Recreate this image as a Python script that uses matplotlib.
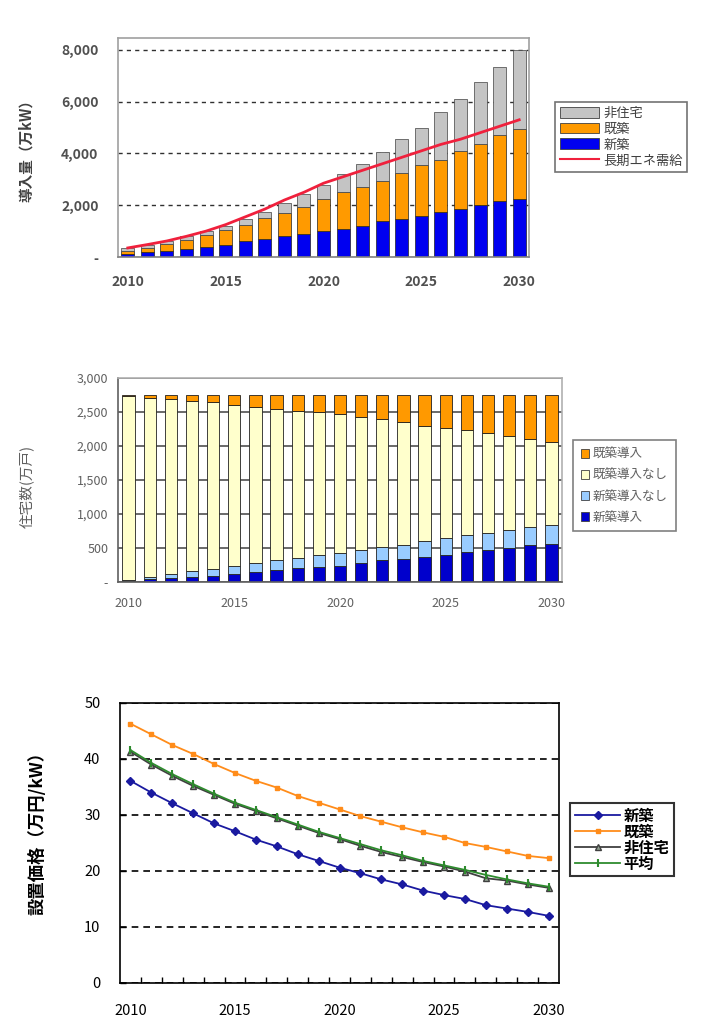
import numpy as np
import matplotlib
matplotlib.use("Agg")
import matplotlib.pyplot as plt
from matplotlib.ticker import FuncFormatter, FixedLocator
from matplotlib.patches import Patch
from matplotlib.lines import Line2D

plt.rcParams['font.family'] = ['Noto Sans CJK JP', 'DejaVu Sans']

years = list(range(2010, 2031))

# 導入量（万kW）
shinchiku_kw = [100, 180, 250, 320, 400, 480, 600, 700, 800, 900, 1000,
                1100, 1200, 1400, 1450, 1600, 1750, 1850, 2000, 2150, 2250]
kichiku_kw = [150, 170, 250, 330, 450, 570, 650, 800, 900, 1050, 1250,
              1400, 1500, 1550, 1800, 1950, 2000, 2250, 2350, 2550, 2700]
hijutaku_kw = [100, 100, 100, 150, 150, 150, 200, 250, 400, 500, 550,
               700, 900, 1100, 1300, 1450, 1850, 2000, 2400, 2650, 3050]
choki_jukyu = [350, 480, 620, 800, 1000, 1250, 1550, 1850, 2200, 2500, 2850,
               3100, 3350, 3600, 3850, 4100, 4350, 4550, 4800, 5050, 5300]

# 住宅数（万戸）
shin_donyu = [20, 40, 60, 80, 90, 120, 140, 170, 200, 220, 240,
              280, 320, 340, 370, 400, 440, 470, 500, 540, 560]
shin_nashi = [10, 30, 60, 80, 100, 110, 140, 150, 160, 170, 190,
              190, 190, 210, 230, 240, 250, 250, 270, 270, 280]
ki_nashi = [2700, 2640, 2570, 2500, 2450, 2380, 2300, 2230, 2160, 2110, 2040,
            1960, 1880, 1800, 1700, 1620, 1540, 1470, 1370, 1290, 1220]
ki_donyu = [20, 40, 60, 90, 110, 140, 170, 200, 230, 250, 280,
            320, 360, 400, 450, 490, 520, 560, 610, 650, 690]

# 設置価格（万円/kW）
price_shin = [36.1, 34.0, 32.1, 30.3, 28.5, 27.1, 25.6, 24.4, 23.0, 21.8, 20.6,
              19.6, 18.5, 17.6, 16.5, 15.7, 15.0, 13.9, 13.3, 12.7, 12.0]
price_ki = [46.3, 44.4, 42.5, 40.9, 39.1, 37.5, 36.1, 34.9, 33.4, 32.2, 31.0,
            29.8, 28.8, 27.8, 26.9, 26.1, 25.0, 24.3, 23.5, 22.7, 22.3]
price_hiju = [41.3, 39.0, 37.0, 35.2, 33.6, 32.0, 30.7, 29.4, 28.1, 26.8, 25.7,
              24.5, 23.4, 22.5, 21.6, 20.8, 19.9, 18.7, 18.3, 17.6, 17.0]
price_avg = [41.6, 39.3, 37.3, 35.5, 33.8, 32.2, 30.9, 29.6, 28.3, 27.0, 25.9,
             24.8, 23.7, 22.8, 21.8, 21.0, 20.2, 19.3, 18.5, 17.8, 17.2]

label_years = [2010, 2015, 2020, 2025, 2030]

W, H = 701, 1027
fig = plt.figure(figsize=(W / 100, H / 100), dpi=100)


def box(l, t, r, b):
    return [l / W, 1 - b / H, (r - l) / W, (b - t) / H]


def thousands(v, pos):
    return "-" if v == 0 else f"{int(v):,}"


# ---- 1) 導入量 ----
ax1 = fig.add_axes(box(118, 38, 529, 257))
x = np.array(years)
b1 = np.array(shinchiku_kw)
b2 = b1 + np.array(kichiku_kw)
ax1.bar(x, shinchiku_kw, 0.66, color="#0000F0", edgecolor="#202020", linewidth=0.5, zorder=2)
ax1.bar(x, kichiku_kw, 0.66, bottom=b1, color="#FF9A00", edgecolor="#202020", linewidth=0.5, zorder=2)
ax1.bar(x, hijutaku_kw, 0.66, bottom=b2, color="#C4C4C4", edgecolor="#404040", linewidth=0.5, zorder=2)
ax1.plot(x, choki_jukyu, color="#F0203C", lw=2, zorder=3)
ax1.set_xlim(2009.5, 2030.5)
ax1.set_ylim(0, 8460)
ax1.set_yticks([0, 2000, 4000, 6000, 8000])
ax1.yaxis.set_major_formatter(FuncFormatter(thousands))
ax1.set_xticks(label_years)
ax1.grid(axis="y", color="#303030", linestyle=(0, (3, 3)), linewidth=1)
ax1.set_axisbelow(True)
for s in ax1.spines.values():
    s.set_color("#A0A0A0")
    s.set_linewidth(1.2)
ax1.spines["bottom"].set_color("#808080")
ax1.tick_params(length=0, labelsize=10, labelcolor="#505050")
ax1.tick_params(axis="y", pad=14)
ax1.tick_params(axis="x", pad=13)
for t in ax1.get_xticklabels() + ax1.get_yticklabels():
    t.set_fontweight("bold")
ax1.set_ylabel("導入量（万kW）", fontsize=10.5, fontweight="bold", color="#404040")
ax1.yaxis.set_label_coords(-0.205, 0.5)
h1 = [Patch(facecolor="#C4C4C4", edgecolor="#404040", lw=0.6),
      Patch(facecolor="#FF9A00", edgecolor="#404040", lw=0.6),
      Patch(facecolor="#0000F0", edgecolor="#404040", lw=0.6),
      Line2D([], [], color="#F0203C", lw=1.5)]
leg1 = ax1.legend(h1, ["非住宅", "既築", "新築", "長期エネ需給"], loc="upper left",
                  bbox_to_anchor=(555 / W, 1 - 102 / H), bbox_transform=fig.transFigure,
                  fontsize=9.5, frameon=True, fancybox=False, handlelength=3.0,
                  handleheight=0.9, labelspacing=0.22, borderpad=0.35,
                  handletextpad=0.3, borderaxespad=0)
leg1.get_frame().set_edgecolor("#505050")
leg1.get_frame().set_linewidth(1.2)
for t in leg1.get_texts():
    t.set_color("#404040")

# ---- 2) 住宅数 ----
ax2 = fig.add_axes(box(118, 378, 562, 582))
c1 = np.array(shin_donyu)
c2 = c1 + np.array(shin_nashi)
c3 = c2 + np.array(ki_nashi)
ax2.bar(x, shin_donyu, 0.58, color="#0000CC", edgecolor="#202020", linewidth=0.6, zorder=2)
ax2.bar(x, shin_nashi, 0.58, bottom=c1, color="#99CCFF", edgecolor="#202020", linewidth=0.6, zorder=2)
ax2.bar(x, ki_nashi, 0.58, bottom=c2, color="#FFFFCC", edgecolor="#202020", linewidth=0.6, zorder=2)
ax2.bar(x, ki_donyu, 0.58, bottom=c3, color="#FF9900", edgecolor="#202020", linewidth=0.6, zorder=2)
ax2.set_xlim(2009.5, 2030.5)
ax2.set_ylim(0, 3000)
ax2.set_yticks(range(0, 3001, 500))
ax2.yaxis.set_major_formatter(FuncFormatter(thousands))
ax2.set_xticks(label_years)
ax2.grid(axis="y", color="#505050", linewidth=1.2)
ax2.set_axisbelow(True)
for s in ax2.spines.values():
    s.set_color("#B0B0B0")
    s.set_linewidth(1.2)
ax2.spines["left"].set_color("#606060")
ax2.spines["bottom"].set_color("#606060")
ax2.tick_params(length=0, labelsize=9, labelcolor="#606060")
ax2.tick_params(axis="y", pad=7)
ax2.tick_params(axis="x", pad=11)
ax2.set_ylabel("住宅数(万戸)", fontsize=10.5, color="#606060")
ax2.yaxis.set_label_coords(-0.19, 0.47)
h2 = [Patch(facecolor="#FF9900", edgecolor="#404040", lw=0.6),
      Patch(facecolor="#FFFFCC", edgecolor="#404040", lw=0.6),
      Patch(facecolor="#99CCFF", edgecolor="#404040", lw=0.6),
      Patch(facecolor="#0000CC", edgecolor="#404040", lw=0.6)]
leg2 = ax2.legend(h2, ["既築導入", "既築導入なし", "新築導入なし", "新築導入"], loc="upper left",
                  bbox_to_anchor=(573 / W, 1 - 440 / H), bbox_transform=fig.transFigure,
                  fontsize=9, frameon=True, fancybox=False, handlelength=0.7,
                  handleheight=0.7, labelspacing=0.65, borderpad=0.6,
                  handletextpad=0.3, borderaxespad=0)
leg2.get_frame().set_edgecolor("#606060")
leg2.get_frame().set_linewidth(1.2)
for t in leg2.get_texts():
    t.set_color("#606060")

# ---- 3) 設置価格 ----
ax3 = fig.add_axes(box(120, 703, 559, 983))
ax3.plot(x, price_shin, color="#1A1AA0", marker="D", ms=4, lw=1.3, zorder=3)
ax3.plot(x, price_ki, color="#FF8C1A", marker="s", ms=3.5, lw=1.3, zorder=3)
ax3.plot(x, price_hiju, color="#404040", marker="^", ms=5, mfc="#90A090", mec="#404040",
         lw=1.3, zorder=3)
ax3.plot(x, price_avg, color="#2E8B2E", marker="|", ms=6, mew=1.5, lw=1.3, zorder=4)
ax3.set_xlim(2009.5, 2030.5)
ax3.set_ylim(0, 50)
ax3.set_yticks(range(0, 51, 10))
ax3.set_xticks(label_years)
ax3.xaxis.set_minor_locator(FixedLocator(np.arange(2010.5, 2030, 1)))
ax3.grid(axis="y", color="black", linestyle=(0, (4, 3)), linewidth=1.2)
ax3.set_axisbelow(True)
for s in ax3.spines.values():
    s.set_color("black")
    s.set_linewidth(1.2)
ax3.tick_params(axis="x", which="major", length=0, labelsize=10.5, pad=15)
ax3.tick_params(axis="x", which="minor", direction="in", length=4, width=1)
ax3.tick_params(axis="y", direction="in", length=4, width=1, labelsize=10.5, pad=14)
ax3.set_ylabel("設置価格（万円/kW）", fontsize=12.5, fontweight="bold")
ax3.yaxis.set_label_coords(-0.168, 0.55)
h3 = [Line2D([], [], color="#1A1AA0", marker="D", ms=4, lw=1.3),
      Line2D([], [], color="#FF8C1A", marker="s", ms=3.5, lw=1.3),
      Line2D([], [], color="#404040", marker="^", ms=5, mfc="#90A090", lw=1.3),
      Line2D([], [], color="#2E8B2E", marker="|", ms=6, mew=1.5, lw=1.3)]
leg3 = ax3.legend(h3, ["新築", "既築", "非住宅", "平均"], loc="upper left",
                  bbox_to_anchor=(570 / W, 1 - 803 / H), bbox_transform=fig.transFigure,
                  fontsize=11, frameon=True, fancybox=False, handlelength=3.0,
                  labelspacing=0.0, borderpad=0.3, handletextpad=0.2, borderaxespad=0)
leg3.get_frame().set_edgecolor("black")
leg3.get_frame().set_linewidth(1.5)
for t in leg3.get_texts():
    t.set_fontweight("bold")

fig.savefig("out.png", dpi=100)
